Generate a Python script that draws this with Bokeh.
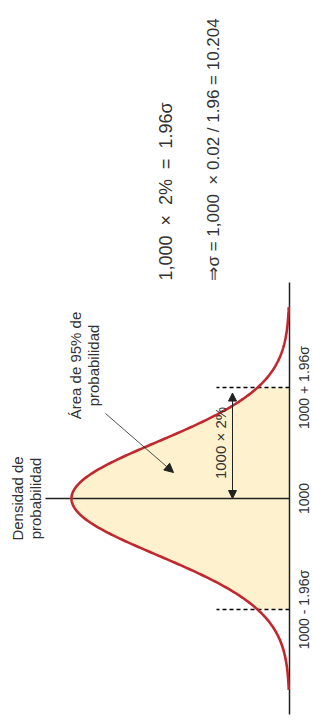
import numpy as np
from math import pi, sqrt
from bokeh.plotting import figure
from bokeh.models import Range1d, Arrow, NormalHead, Label
from bokeh.core.properties import value
from bokeh.embed import file_html
from bokeh.resources import INLINE

# ---- values shown in the chart ----
mean = 1000
sigma = 10.204
z95 = 1.96
half_width = 20            # 1000 x 2%  (= 1.96 sigma)
tick_values = [980, 1000, 1020]
tick_labels = ["1000 - 1.96σ", "1000", "1000 + 1.96σ"]
curve_span_sigma = 3.38    # extent of the drawn bell curve, in sigma units
axis_span = 38.9           # extent of the value axis line around the mean
NB = "\u00a0"
eq1 = f"1,000{NB}{NB}×{NB}{NB}2%{NB}{NB}={NB}{NB}1.96σ"
eq2 = f"⇒σ{NB}={NB}1,000{NB}{NB}×{NB}0.02{NB}/{NB}1.96{NB}={NB}10.204"
density_label = ["Densidad de", "probabilidad"]
area_label = ["Área de 95% de", "probabilidad"]
bracket_label = f"1000{NB}×{NB}2%"

# ---- normal density ----
pdf_max = 1.0 / (sigma * sqrt(2 * pi))
ys = np.linspace(mean - curve_span_sigma * sigma, mean + curve_span_sigma * sigma, 400)
dens = pdf_max * np.exp(-0.5 * ((ys - mean) / sigma) ** 2)
ys_in = np.linspace(mean - half_width, mean + half_width, 300)
dens_in = pdf_max * np.exp(-0.5 * ((ys_in - mean) / sigma) ** 2)

# ---- layout (screen: density grows to the left, values grow upward) ----
W, H = 313, 726
base_px = 289.0            # screen x of the zero-density baseline
peak_px = 218.0
px_per_unit = 5.55
y_lo = mean - (H - 498) / px_per_unit
y_hi = mean + 498 / px_per_unit

def dx(px_from_base):
    return pdf_max * px_from_base / peak_px

p = figure(width=W, height=H, output_backend="svg", toolbar_location=None,
           x_range=Range1d(dx(base_px), dx(base_px - W)), y_range=Range1d(y_lo, y_hi),
           x_axis_location=None, y_axis_location=None, min_border=0)
p.outline_line_color = None
p.xgrid.visible = False
p.ygrid.visible = False
p.background_fill_color = "white"

FONT = "Liberation Sans"
TXT = "#333333"
INK = "#222222"

# shaded 95% area
p.harea(y=ys_in, x1=np.zeros_like(ys_in), x2=dens_in, fill_color="#FDF1CE")

# dashed bounds at +-1.96 sigma
for yv in (mean - half_width, mean + half_width):
    p.segment(x0=[0], y0=[yv], x1=[dx(73)], y1=[yv], line_color="black",
              line_width=1.4, line_dash="4 3")

# density axis line at the mean
p.segment(x0=[0], y0=[mean], x1=[dx(244)], y1=[mean], line_color=INK, line_width=1.5)

# value axis baseline
p.segment(x0=[0], y0=[mean - axis_span], x1=[0], y1=[mean + axis_span],
          line_color=INK, line_width=1.5)

# tick labels of the value axis
p.text(x=[dx(-14)] * len(tick_values), y=tick_values, text=tick_labels, angle=pi / 2,
       text_align="center", text_baseline="middle", text_font=value(FONT),
       text_font_size="14px", text_color=TXT)

# bell curve
p.line(dens, ys, line_color="#C1272D", line_width=2.6)

# double arrow 1000 x 2%
p.add_layout(Arrow(start=NormalHead(size=8, fill_color=INK, line_color=INK),
                   end=NormalHead(size=8, fill_color=INK, line_color=INK),
                   x_start=dx(57), y_start=mean, x_end=dx(57), y_end=mean + half_width - 1,
                   line_color=INK, line_width=1))
p.add_layout(Label(x=dx(69), y=mean + half_width / 2, text=bracket_label, angle=pi / 2,
                   text_align="center", text_baseline="middle", text_font=FONT,
                   text_font_size="15px", text_color=TXT))

# pointer arrow to area
p.add_layout(Arrow(end=NormalHead(size=9, fill_color=INK, line_color=INK),
                   x_start=dx(184), y_start=mean + 85 / px_per_unit,
                   x_end=dx(116), y_end=mean + 26 / px_per_unit,
                   line_color=INK, line_width=0.8))

# area label
for i, t in enumerate(area_label):
    p.add_layout(Label(x=dx(214 - 18 * i), y=mean + 133 / px_per_unit, text=t, angle=pi / 2,
                       text_align="center", text_baseline="middle", text_font=FONT,
                       text_font_size="15px", text_color=TXT))

# density label
for i, t in enumerate(density_label):
    p.add_layout(Label(x=dx(272 - 18 * i), y=mean, text=t, angle=pi / 2,
                       text_align="center", text_baseline="middle", text_font=FONT,
                       text_font_size="15px", text_color=TXT))

# equations
p.add_layout(Label(x=dx(124), y=mean + 218 / px_per_unit, text=eq1, angle=pi / 2,
                   text_align="left", text_baseline="middle", text_font=FONT,
                   text_font_size="18px", text_color=TXT))
p.add_layout(Label(x=dx(76), y=mean + 218 / px_per_unit, text=eq2, angle=pi / 2,
                   text_align="left", text_baseline="middle", text_font=FONT,
                   text_font_size="17px", text_color=TXT))

open("out.html", "w").write(file_html(p, INLINE))
